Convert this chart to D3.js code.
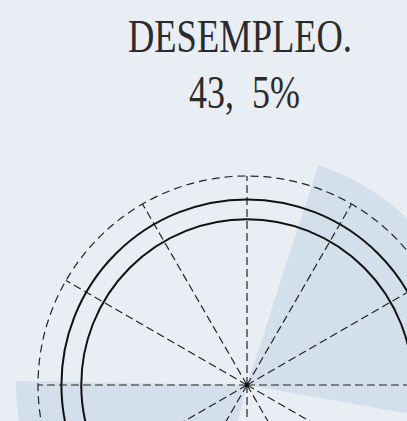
<!DOCTYPE html>
<html>
<head>
<meta charset="utf-8">
<script src="https://cdn.jsdelivr.net/npm/d3@7"></script>
<style>
  html, body { margin: 0; padding: 0; background: #e8eef3; }
  svg { display: block; }
</style>
</head>
<body>
<div id="chart"></div>
<script>
// title lines
const titleLines = [['DESEMPLEO.'], ['43,', ' 5%']]

// pie slices, in degrees, starting clockwise from the first shaded edge
const sliceDegrees = [82, 94, 77, 107]
const sliceShaded = [true, false, true, false]
const sliceStart = 18

// grid
const spokeAngles = d3.range(0, 360, 30)
const ringValues = [79.3, 88.8]   // solid rings, % of grid radius
const gridOuter = 100             // dashed outer ring

const width = 407
const height = 421
const cx = 247
const cy = 385

const svg = d3.select('#chart').append('svg')
  .attr('width', width)
  .attr('height', height)

svg.append('rect')
  .attr('width', width)
  .attr('height', height)
  .attr('fill', '#e8eef3')

const rScale = d3.scaleLinear().domain([0, 100]).range([0, 209])
const toRad = d => d * Math.PI / 180

const g = svg.append('g').attr('transform', `translate(${cx},${cy})`)

const pie = d3.pie()
  .sort(null)
  .value(d => d)
  .startAngle(toRad(sliceStart))
  .endAngle(toRad(sliceStart + 360))

const arc = d3.arc().innerRadius(0).outerRadius(231)

g.selectAll('path.slice')
  .data(pie(sliceDegrees))
  .enter()
  .append('path')
  .attr('class', 'slice')
  .attr('d', arc)
  .attr('fill', (d, i) => sliceShaded[i] ? '#d3dfea' : 'none')

// spokes
g.selectAll('line.spoke')
  .data(spokeAngles)
  .enter()
  .append('line')
  .attr('class', 'spoke')
  .attr('x1', 0)
  .attr('y1', 0)
  .attr('x2', d => Math.sin(toRad(d)) * rScale(gridOuter))
  .attr('y2', d => -Math.cos(toRad(d)) * rScale(gridOuter))
  .style('stroke', '#222')
  .style('stroke-width', 1.2)
  .style('stroke-dasharray', '8,4')

g.append('circle')
  .attr('r', rScale(gridOuter))
  .attr('fill', 'none')
  .style('stroke', '#222')
  .style('stroke-width', 1.2)
  .style('stroke-dasharray', '8,5')

g.selectAll('circle.ring')
  .data(ringValues)
  .enter()
  .append('circle')
  .attr('class', 'ring')
  .attr('r', d => rScale(d))
  .attr('fill', 'none')
  .style('stroke', '#111')
  .style('stroke-width', 2)

g.append('circle')
  .attr('r', 2.2)
  .attr('fill', '#111')

// title, condensed horizontally to match the narrow serif of the original
const titleLeft = [128, 189]
const titleY = [52, 108]
const titleW = [224, 111]

titleLines.forEach((parts, i) => {
  const holder = svg.append('g')
  const text = holder.append('text')
    .attr('x', 0)
    .attr('y', 0)
    .style('font-family', '"Liberation Serif", serif')
    .style('font-size', '47px')
    .style('fill', '#2b2b2b')
  parts.forEach((p, j) => {
    text.append('tspan')
      .attr('dx', j > 0 ? 12 : 0)
      .text(p)
  })
  const natural = text.node().getComputedTextLength() + (parts.length - 1) * 12
  const sx = titleW[i] / natural
  holder.attr('transform', `translate(${titleLeft[i]},${titleY[i]}) scale(${sx},1)`)
})
</script>
</body>
</html>
